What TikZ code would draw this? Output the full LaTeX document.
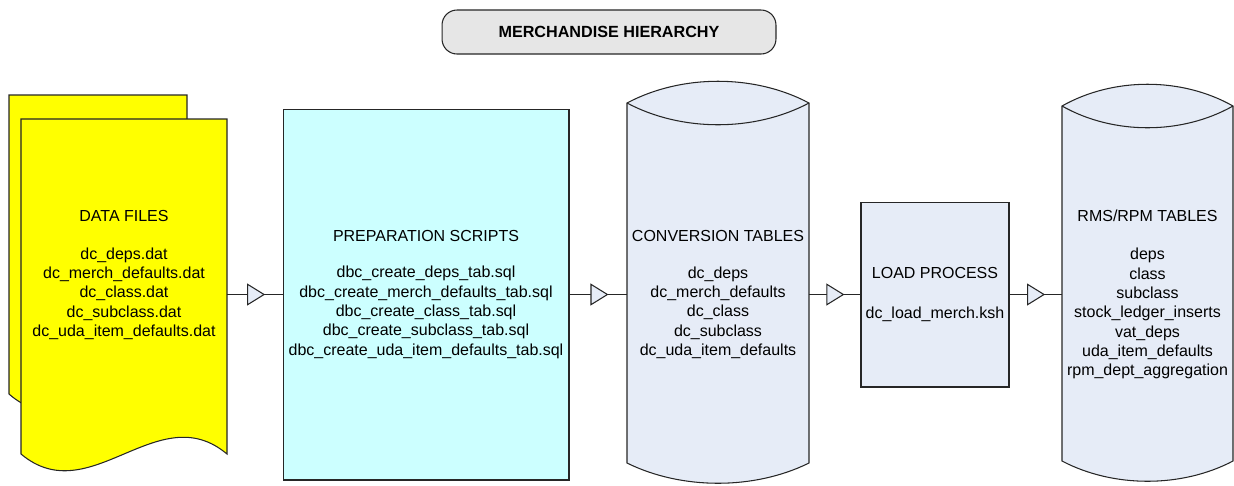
\documentclass[tikz,border=0pt]{standalone}
\usepackage{fontspec}
\setmainfont{Liberation Sans}
\usetikzlibrary{arrows.meta,decorations.markings}
\definecolor{pageyellow}{HTML}{FFFF00}
\definecolor{scriptcyan}{HTML}{CCFFFF}
\definecolor{tablefill}{HTML}{E6ECF7}
\definecolor{titlegray}{HTML}{E6E6E6}
\def\drum(#1:#2:#3:#4){\draw[tank] (#1,#3) .. controls ({#1+(#2-#1)*0.3},{#3-29}) and ({#2-(#2-#1)*0.3},{#3-29}) .. (#2,#3) -- (#2,#4) .. controls ({#2-(#2-#1)*0.3},{#4+27}) and ({#1+(#2-#1)*0.3},{#4+27}) .. (#1,#4) -- cycle;
	\draw[tank, fill=none] (#1,#3) .. controls ({#1+(#2-#1)*0.3},{#3+29}) and ({#2-(#2-#1)*0.3},{#3+29}) .. (#2,#3);}

\begin{document}
\begin{tikzpicture}[x=0.02cm, y=-0.02cm,
		txt/.style={font=\fontsize{9.1}{11}\selectfont, align=center, inner sep=0pt, outer sep=0pt},
		tank/.style={draw=black!85, line width=0.6pt, fill=tablefill},
		page/.style={draw=black!85, line width=0.6pt, fill=pageyellow},
		flow/.style={draw=black!85, line width=0.6pt, postaction={decorate, decoration={markings, mark=at position 0.68 with {\arrow{Triangle[length=0.36cm, width=0.44cm, fill=tablefill]}}}}}]
		%%%%% START %%%%%
		\useasboundingbox (0,0) rectangle (1234,485);
		
		\node[txt, draw=black!85, line width=0.6pt, fill=titlegray, rounded corners=0.3cm, minimum width=6.68cm, minimum height=0.88cm, font=\bfseries\fontsize{9.2}{11}\selectfont] (title) at (609,32) {MERCHANDISE HIERARCHY};
		
		\draw[page] (9,95) -- (187,95) -- (187,400) .. controls (128,356) and (68,446) .. (9,394) -- cycle;
		\draw[page] (21,119) -- (227,119) -- (227,454) .. controls (158,396) and (90,512) .. (21,454) -- cycle;
		\node[txt, minimum width=4.12cm] (data) at (124,275) {DATA FILES\\[10.6pt]dc\_deps.dat\\dc\_merch\_defaults.dat\\dc\_class.dat\\dc\_subclass.dat\\dc\_uda\_item\_defaults.dat};
		
		\node[txt, draw=black!85, line width=0.6pt, fill=scriptcyan, minimum width=5.72cm, minimum height=7.42cm] (prep) at (426,294.5) {PREPARATION SCRIPTS\\[9.4pt]dbc\_create\_deps\_tab.sql\\dbc\_create\_merch\_defaults\_tab.sql\\dbc\_create\_class\_tab.sql\\dbc\_create\_subclass\_tab.sql\\dbc\_create\_uda\_item\_defaults\_tab.sql};
		
		\drum(627:809:103:463)
		\node[txt, minimum width=3.64cm] (conv) at (718,294.5) {CONVERSION TABLES\\[9.8pt]dc\_deps\\dc\_merch\_defaults\\dc\_class\\dc\_subclass\\dc\_uda\_item\_defaults};
		
		\node[txt, draw=black!85, line width=0.6pt, fill=tablefill, minimum width=2.96cm, minimum height=3.7cm] (load) at (935,294.5) {LOAD PROCESS\\[11.7pt]dc\_load\_merch.ksh};
		
		\drum(1062:1233:106:461)
		\node[txt, minimum width=3.42cm] (rms) at (1147.5,294.5) {RMS/RPM TABLES\\[10.8pt]deps\\class\\subclass\\stock\_ledger\_inserts\\vat\_deps\\uda\_item\_defaults\\rpm\_dept\_aggregation};
		
		\draw[flow] (data.east |- prep.west) -- (prep.west);
		\draw[flow] (prep) -- (conv);
		\draw[flow] (conv) -- (load);
		\draw[flow] (load) -- (rms);
		%%%%% END %%%%%
	\end{tikzpicture}
\end{document}
